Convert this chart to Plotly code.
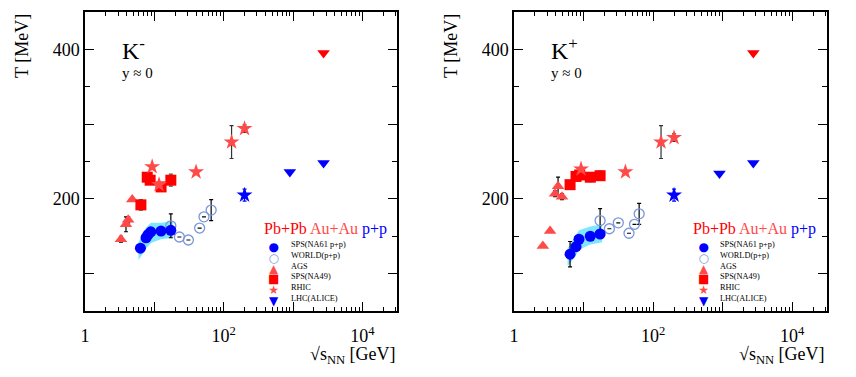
import plotly.graph_objects as go
from plotly.subplots import make_subplots

# ---- K- (left panel) ----
ags_x_km = [3.3, 3.9, 4.2, 4.8]
ags_t_km = [146, 166, 172, 199]
ags_e_km = [4, 10, 4, 0]
na49_x_km = [6.4, 7.9, 8.7, 12.5, 17.3]
na49_t_km = [192, 229, 225, 216, 225]
na49_e_km = [7, 4, 5, 5, 8]
rhic_x_km = [9.3, 11.7, 40, 130, 200]
rhic_t_km = [243, 219, 236, 276, 294]
rhic_e_km = [0, 0, 0, 22, 5]
lhc_aa_t_km = [395]
lhc_pp_t_km = [236, 248]
rhic_pp_t_km = [205]
na61_x_km = [6.3, 7.6, 8.1, 8.9, 12.5, 17.3]
na61_t_km = [134, 148, 152, 156, 157, 158]
na61_e_km = [4, 5, 4, 4, 4, 5]
world_x_km = [17.3, 23, 31, 45, 52, 66]
world_t_km = [164, 149, 145, 161, 176, 185]
world_e_km = [16, 0, 0, 0, 0, 14]
band_x_km = [5.9, 7.4, 8.9, 12.5, 18.5]
band_lo_km = [118, 132, 141, 146, 148]
band_hi_km = [142, 160, 168, 168, 170]

# ---- K+ (right panel) ----
ags_x_kp = [2.6, 3.3, 3.9, 4.3, 4.9]
ags_t_kp = [137, 157, 207, 217, 203]
ags_e_kp = [0, 0, 4, 12, 4]
na49_x_kp = [6.4, 7.8, 8.8, 12.5, 17.3]
na49_t_kp = [219, 230, 232, 229, 231]
na49_e_kp = [3, 5, 5, 6, 6]
rhic_x_kp = [9.2, 40, 130, 200]
rhic_t_kp = [240, 236, 276, 282]
rhic_e_kp = [0, 0, 22, 5]
lhc_aa_t_kp = [395]
lhc_pp_t_kp = [234, 248]
rhic_pp_t_kp = [205]
na61_x_kp = [6.4, 7.8, 8.6, 12.5, 17.3]
na61_t_kp = [126, 136, 146, 150, 153]
na61_e_kp = [17, 5, 4, 3, 5]
world_x_kp = [17.3, 23.5, 31.6, 45, 54, 63]
world_t_kp = [171, 160, 168, 154, 166, 180]
world_e_kp = [16, 0, 0, 0, 0, 14]
band_x_kp = [5.9, 7.6, 8.6, 12.5, 18.5]
band_lo_kp = [110, 123, 132, 139, 142]
band_hi_kp = [134, 150, 158, 163, 166]

lhc_aa_x = [2760]
lhc_pp_x = [900, 2760]
rhic_pp_x = [200]
rhic_pp_e = [8]

panels = {
    "K-": dict(ags=(ags_x_km, ags_t_km, ags_e_km), na49=(na49_x_km, na49_t_km, na49_e_km),
               rhic=(rhic_x_km, rhic_t_km, rhic_e_km), lhc_aa=lhc_aa_t_km, lhc_pp=lhc_pp_t_km,
               rhic_pp=rhic_pp_t_km, na61=(na61_x_km, na61_t_km, na61_e_km),
               world=(world_x_km, world_t_km, world_e_km),
               band=(band_x_km, band_lo_km, band_hi_km)),
    "K+": dict(ags=(ags_x_kp, ags_t_kp, ags_e_kp), na49=(na49_x_kp, na49_t_kp, na49_e_kp),
               rhic=(rhic_x_kp, rhic_t_kp, rhic_e_kp), lhc_aa=lhc_aa_t_kp, lhc_pp=lhc_pp_t_kp,
               rhic_pp=rhic_pp_t_kp, na61=(na61_x_kp, na61_t_kp, na61_e_kp),
               world=(world_x_kp, world_t_kp, world_e_kp),
               band=(band_x_kp, band_lo_kp, band_hi_kp)),
}

legend_labels = ["SPS(NA61 p+p)", "WORLD(p+p)", "AGS", "SPS(NA49)", "RHIC", "LHC(ALICE)"]
legend_symbols = ["●", "○", "▲", "■", "★", "▼"]

RED = "#ff0000"
SALMON = "#ff4a4a"
BLUE = "#0000ff"
LIGHTBLUE = "#7b96dc"
legend_colors = [BLUE, LIGHTBLUE, SALMON, RED, SALMON, BLUE]
SERIF = "Liberation Serif"

# page body has an 8px margin, so the figure is 16px smaller and positions are shifted by 8px
W, H, OFF = 840, 361, 8

fig = make_subplots(rows=1, cols=2)


def err(e, color="#333333"):
    return dict(type="data", array=e, color=color, thickness=1.2, width=2)


for col, (name, d) in enumerate(panels.items(), start=1):
    bx, blo, bhi = d["band"]
    fig.add_trace(go.Scatter(x=bx + bx[::-1], y=bhi + blo[::-1], fill="toself",
                             fillcolor="#7fe6ff", line=dict(width=0),
                             mode="lines", showlegend=False, hoverinfo="skip"), row=1, col=col)

    x, t, e = d["world"]
    fig.add_trace(go.Scatter(x=x, y=t, mode="markers", error_y=err(e, "black"),
                             marker=dict(symbol="circle-open", size=10, color=LIGHTBLUE,
                                         line=dict(width=1.3, color=LIGHTBLUE)),
                             showlegend=False), row=1, col=col)
    x, t, e = d["na61"]
    fig.add_trace(go.Scatter(x=x, y=t, mode="markers", error_y=err(e, "black"),
                             marker=dict(symbol="circle", size=11, color=BLUE),
                             showlegend=False), row=1, col=col)
    x, t, e = d["ags"]
    fig.add_trace(go.Scatter(x=x, y=t, mode="markers", error_y=err(e, "black"),
                             marker=dict(symbol="triangle-up", size=11, color=SALMON),
                             showlegend=False), row=1, col=col)
    x, t, e = d["na49"]
    fig.add_trace(go.Scatter(x=x, y=t, mode="markers", error_y=err(e, "#2d5f5f"),
                             marker=dict(symbol="square", size=11, color=RED),
                             showlegend=False), row=1, col=col)
    x, t, e = d["rhic"]
    fig.add_trace(go.Scatter(x=x, y=t, mode="markers", error_y=err(e, "#333333"),
                             marker=dict(symbol="star", size=12, color=SALMON),
                             showlegend=False), row=1, col=col)
    fig.add_trace(go.Scatter(x=rhic_pp_x, y=d["rhic_pp"], mode="markers", error_y=err(rhic_pp_e, BLUE),
                             marker=dict(symbol="star", size=12, color=BLUE),
                             showlegend=False), row=1, col=col)
    fig.add_trace(go.Scatter(x=lhc_aa_x, y=d["lhc_aa"], mode="markers",
                             marker=dict(symbol="triangle-down", size=11, color=RED),
                             showlegend=False), row=1, col=col)
    fig.add_trace(go.Scatter(x=lhc_pp_x, y=d["lhc_pp"], mode="markers",
                             marker=dict(symbol="triangle-down", size=11, color=BLUE),
                             showlegend=False), row=1, col=col)

    xr = "x" if col == 1 else "x2"
    yr = "y" if col == 1 else "y2"
    particle = "K<sup>-</sup>" if name == "K-" else "K<sup>+</sup>"
    fig.add_annotation(x=0.5, y=400, xref=xr, yref=yr, text=particle, showarrow=False,
                       xanchor="left", yanchor="middle", font=dict(family=SERIF, size=24, color="black"))
    fig.add_annotation(x=0.5, y=368, xref=xr, yref=yr, text="y ≈ 0", showarrow=False,
                       xanchor="left", yanchor="middle", font=dict(family=SERIF, size=15, color="black"))

    # legend block
    fig.add_annotation(x=2.55, y=160, xref=xr, yref=yr, showarrow=False, xanchor="left",
                       text="<span style='color:#ff0000'>Pb+Pb</span> <span style='color:#ff4a4a'>Au+Au</span> "
                            "<span style='color:#0000ff'>p+p</span>",
                       font=dict(family=SERIF, size=16))
    sym_text = "<br>".join("<span style='color:%s;font-size:12px'>%s</span>" % (c, s)
                           for s, c in zip(legend_symbols, legend_colors))
    fig.add_annotation(x=2.72, y=147, xref=xr, yref=yr, showarrow=False, xanchor="center",
                       yanchor="top", align="center", text=sym_text,
                       font=dict(family="DejaVu Sans", size=8.3, color="black"))
    fig.add_annotation(x=2.94, y=147, xref=xr, yref=yr, showarrow=False, xanchor="left",
                       yanchor="top", align="left", text="<br>".join(legend_labels),
                       font=dict(family=SERIF, size=8.3, color="black"))

    # axis titles
    left_px = 85 if col == 1 else 514
    fig.add_annotation(x=(left_px - 63 - OFF) / W, y=1 - 4 / H, xref="paper", yref="paper", text="T [MeV]",
                       textangle=-90, showarrow=False, xanchor="center", yanchor="top",
                       font=dict(family=SERIF, size=18, color="black"))
    fig.add_annotation(x=(left_px + 313 - OFF) / W, y=(H - (355 - OFF)) / H, xref="paper", yref="paper",
                       text="√s<sub>NN</sub> [GeV]", showarrow=False, xanchor="right", yanchor="middle",
                       font=dict(family=SERIF, size=18, color="black"))

minor_x = [k * 10 ** n for n in range(0, 5) for k in range(2, 10)]
fig.update_xaxes(type="log", range=[0, 4.5], tickvals=[1, 10, 100, 1000, 10000],
                 ticktext=["1", "", "10<sup>2</sup>", "", "10<sup>4</sup>"],
                 ticks="inside", ticklen=9, tickwidth=1, tickcolor="black",
                 minor=dict(tickvals=minor_x, ticks="inside", ticklen=4, tickcolor="black", tickwidth=1),
                 showline=True, linecolor="black", linewidth=1.5, mirror="ticks", showgrid=False,
                 zeroline=False, ticklabelstandoff=8, automargin=False,
                 tickfont=dict(family=SERIF, size=18, color="black"))
fig.update_yaxes(range=[50, 450], tickvals=[100, 200, 300, 400], ticktext=["", "200", "", "400"],
                 ticks="inside", ticklen=9, tickwidth=1, tickcolor="black",
                 minor=dict(tickvals=[150, 250, 350], ticks="inside", ticklen=5, tickcolor="black", tickwidth=1),
                 showline=True, linecolor="black", linewidth=1.5, mirror="ticks", showgrid=False,
                 zeroline=False, ticklabelstandoff=0, automargin=False,
                 tickfont=dict(family=SERIF, size=18, color="black"))

fig.update_layout(
    width=W, height=H,
    margin=dict(l=0, r=0, t=0, b=0),
    paper_bgcolor="white", plot_bgcolor="white",
    showlegend=False,
    xaxis=dict(domain=[(85 - OFF) / W, (397 - OFF) / W]),
    xaxis2=dict(domain=[(514 - OFF) / W, (827 - OFF) / W]),
    yaxis=dict(domain=[(H - (311 - OFF)) / H, (H - (12 - OFF)) / H]),
    yaxis2=dict(domain=[(H - (311 - OFF)) / H, (H - (12 - OFF)) / H]),
)

fig.write_html("out.html")
